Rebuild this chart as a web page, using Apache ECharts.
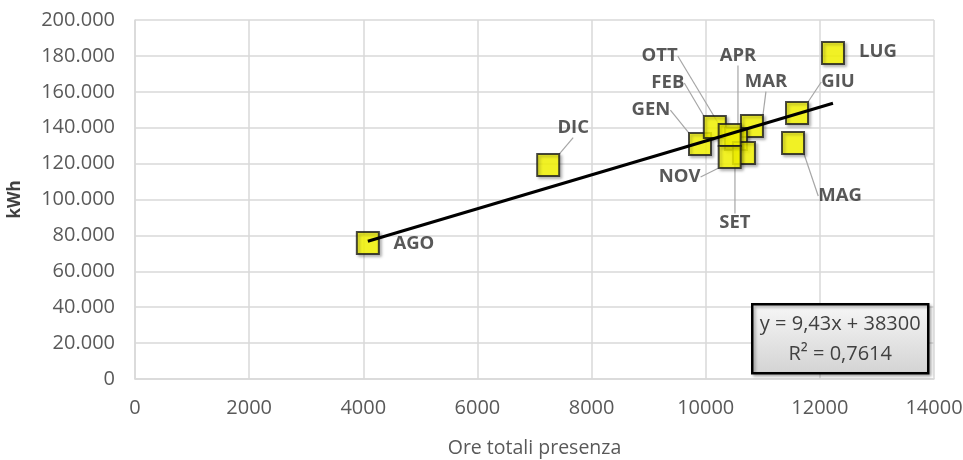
<!DOCTYPE html>
<html>
<head>
<meta charset="utf-8">
<script src="https://cdn.jsdelivr.net/npm/echarts@6/dist/echarts.min.js"></script>
<style>html,body{margin:0;padding:0;background:#fff}#c{width:963px;height:460px}</style>
</head>
<body>
<div id="c"></div>
<script>
const months = ['GEN','FEB','MAR','APR','MAG','GIU','LUG','AGO','SET','OTT','NOV','DIC'];
const oreTotali = [9900, 10160, 10810, 10530, 11530, 11600, 12230, 4080, 10670, 10420, 10420, 7240];
const kWh = [130900, 140400, 140900, 133700, 131500, 148200, 181600, 75800, 125900, 135900, 123700, 119200];
const slope = 9.43;
const intercept = 38300;
const r2Text = '0,7614';
const xTicks = [0, 2000, 4000, 6000, 8000, 10000, 12000, 14000];
const yTicks = [0, 20000, 40000, 60000, 80000, 100000, 120000, 140000, 160000, 180000, 200000];

// label offsets (px) relative to marker centre
const labelOffsets = {
  GEN: [-49, -34], FEB: [-47, -44], MAR: [14, -44], APR: [2, -83],
  MAG: [47, 53], GIU: [41, -31], LUG: [45, -1], AGO: [46, 1],
  SET: [-9, 70], OTT: [-70, -79], NOV: [-50, 20], DIC: [25, -37]
};
const noLeader = ['LUG', 'AGO'];

const pts = months.map((m, i) => ({
  name: m,
  value: [oreTotali[i], kWh[i]],
  labelLine: { show: noLeader.indexOf(m) < 0 }
}));
const xMin = Math.min(...oreTotali), xMax = Math.max(...oreTotali);
const trend = [[xMin, slope * xMin + intercept], [xMax, slope * xMax + intercept]];

const font = '"Open Sans", "Noto Sans", sans-serif';
const fmtThousands = v => String(v).replace(/\B(?=(\d{3})+(?!\d))/g, '.');

const chart = echarts.init(document.getElementById('c'), null, { renderer: 'canvas' });
chart.setOption({
  animation: false,
  backgroundColor: '#fff',
  grid: { left: 135, right: 29, top: 20, bottom: 81, containLabel: false, outerBoundsMode: 'none' },
  xAxis: {
    type: 'value', min: xTicks[0], max: xTicks[xTicks.length - 1], interval: 2000,
    name: 'Ore totali presenza', nameLocation: 'middle', nameGap: 59,
    nameTextStyle: { fontFamily: font, fontSize: 19.5, color: '#595959' },
    axisLine: { show: true, lineStyle: { color: '#d9d9d9', width: 1.5 } },
    axisTick: { show: false },
    axisLabel: { fontFamily: font, fontSize: 20, color: '#595959', margin: 19, formatter: v => String(v) },
    splitLine: { show: true, lineStyle: { color: '#d9d9d9', width: 1.5 } }
  },
  yAxis: {
    type: 'value', min: yTicks[0], max: yTicks[yTicks.length - 1], interval: 20000,
    name: 'kWh', nameLocation: 'middle', nameGap: 111, nameRotate: 90,
    nameTextStyle: { fontFamily: font, fontSize: 17, fontWeight: 'bold', color: '#404040' },
    axisLine: { show: true, lineStyle: { color: '#d9d9d9', width: 1.5 } },
    axisTick: { show: false },
    axisLabel: { fontFamily: font, fontSize: 20, color: '#595959', margin: 20, formatter: fmtThousands },
    splitLine: { show: true, lineStyle: { color: '#d9d9d9', width: 1.5 } }
  },
  series: [
    {
      type: 'scatter', z: 2,
      symbol: 'rect', symbolSize: 22,
      itemStyle: { color: '#ffff00', borderColor: '#1a1a1a', borderWidth: 2,
        shadowBlur: 3, shadowColor: 'rgba(0,0,0,0.35)', shadowOffsetX: 2, shadowOffsetY: 2 },
      label: { show: true, position: 'inside', formatter: '{b}',
        fontFamily: font, fontSize: 18.5, fontWeight: 'bold', color: '#2e2e2e' },
      labelLine: { show: true, lineStyle: { color: '#a6a6a6', width: 1.2 } },
      labelLayout: p => { const o = labelOffsets[months[p.dataIndex]]; return { dx: o[0], dy: o[1] }; },
      emphasis: { disabled: true },
      data: pts
    },
    {
      type: 'line', z: 5, symbol: 'none', silent: true,
      lineStyle: { color: '#000', width: 3 },
      data: trend
    }
  ],
  graphic: [{
    type: 'group', left: 751, top: 303, z: 100,
    children: [
      { type: 'rect', z: 100, shape: { x: 0, y: 0, width: 176, height: 69 },
        style: { fill: new echarts.graphic.LinearGradient(0, 0, 0, 1, [
          { offset: 0, color: '#f7f7f7' }, { offset: 1, color: '#d3d3d3' }]),
          stroke: '#000', lineWidth: 2.5,
          shadowBlur: 3, shadowColor: 'rgba(0,0,0,0.3)', shadowOffsetX: 2, shadowOffsetY: 2 } },
      { type: 'text', z: 101, x: 88, y: 20, style: { text: 'y = 9,43x + 38300', align: 'center', verticalAlign: 'middle',
        font: '20px ' + font, fill: '#404040' } },
      { type: 'text', z: 101, x: 88, y: 50, style: { text: 'R² = ' + r2Text, align: 'center', verticalAlign: 'middle',
        font: '20px ' + font, fill: '#404040' } }
    ]
  }]
});
</script>
</body>
</html>
